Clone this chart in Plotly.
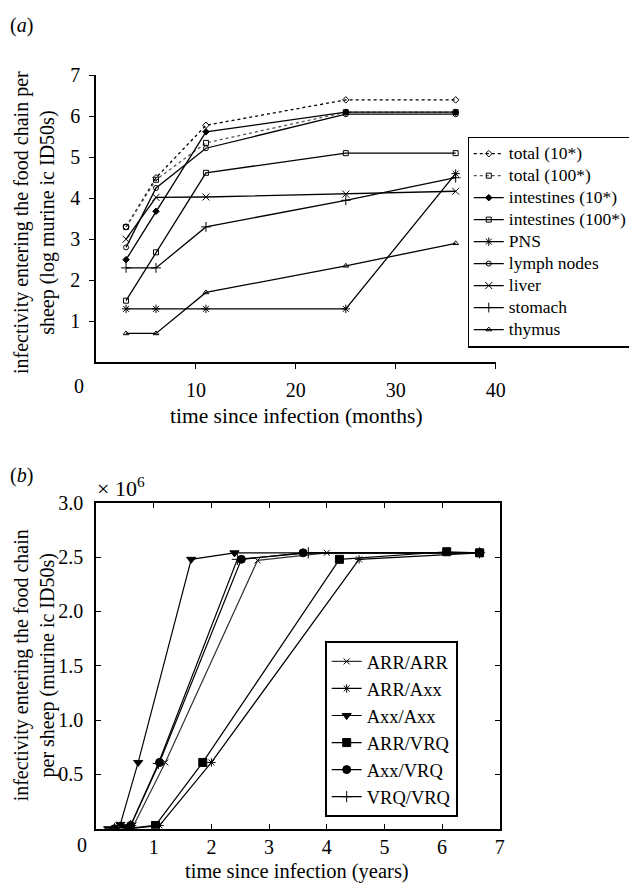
import plotly.graph_objects as go

# ---------------- Panel (a) data ----------------
months = [3, 6, 11, 25, 36]
total_10 = [3.3, 4.5, 5.78, 6.4, 6.4]
total_100 = [3.3, 4.45, 5.35, 6.1, 6.1]
intest_10 = [2.5, 3.68, 5.62, 6.1, 6.1]
intest_100 = [1.5, 2.68, 4.62, 5.1, 5.1]
pns = [1.3, 1.3, 1.3, 1.3, 4.6]
lymph = [2.8, 4.25, 5.22, 6.05, 6.05]
liver = [3.0, 4.02, 4.03, 4.1, 4.17]
stomach = [2.3, 2.3, 3.3, 3.95, 4.5]
thymus = [0.7, 0.7, 1.7, 2.35, 2.9]
a_xticks = [10, 20, 30, 40]
a_yticks = [1, 2, 3, 4, 5, 6, 7]

# ---------------- Panel (b) data (values in units of 10^6) ----------------
arr_arr_x = [0.5, 0.65, 1.2, 2.8, 4.0, 6.65]
arr_arr_y = [0.0, 0.03, 0.61, 2.47, 2.54, 2.54]
arr_axx_x = [0.6, 1.1, 2.0, 4.56, 6.65]
arr_axx_y = [0.0, 0.03, 0.61, 2.48, 2.54]
axx_axx_x = [0.21, 0.42, 0.73, 1.65, 2.4, 6.65]
axx_axx_y = [0.0, 0.04, 0.61, 2.48, 2.54, 2.54]
arr_vrq_x = [0.52, 1.03, 1.85, 4.22, 6.08, 6.65]
arr_vrq_y = [0.0, 0.03, 0.61, 2.48, 2.55, 2.54]
axx_vrq_x = [0.32, 0.6, 1.1, 2.52, 3.59, 6.65]
axx_vrq_y = [0.0, 0.03, 0.61, 2.48, 2.54, 2.54]
vrq_vrq_x = [0.32, 0.6, 1.08, 2.45, 3.68, 6.65]
vrq_vrq_y = [0.0, 0.03, 0.6, 2.48, 2.54, 2.54]
b_xticks = [1, 2, 3, 4, 5, 6, 7]
b_yticks = [0.5, 1.0, 1.5, 2.0, 2.5, 3.0]

FONT = "'Liberation Serif', 'Times New Roman', Times, serif"

# The page body has an 8px margin: figure is sized to fit the window exactly.
W, H, OFF = 629, 877, 8
def fx(px):
    return (px - OFF) / W
def fy(py):
    return 1 - (py - OFF) / H

fig = go.Figure()

def add_a(name, y, symbol, dash="solid", color="black", size=5):
    fig.add_trace(go.Scatter(
        x=months, y=y, mode="lines+markers",
        name="<span style='font-size:17.5px'>%s</span>" % name,
        line=dict(color=color, width=1.3, dash=dash),
        marker=dict(symbol=symbol, size=size, color="black",
                    line=dict(color="black", width=1)),
        xaxis="x", yaxis="y", legend="legend"))

add_a("total (10*)", total_10, "diamond-open", dash="dot")
add_a("total (100*)", total_100, "square-open", dash="dot", color="#555555")
add_a("intestines (10*)", intest_10, "diamond")
add_a("intestines (100*)", intest_100, "square-open")
add_a("PNS", pns, "asterisk-open", size=7)
add_a("lymph nodes", lymph, "circle-open")
add_a("liver", liver, "x-thin-open", size=7)
add_a("stomach", stomach, "cross-thin-open", size=7)
add_a("thymus", thymus, "triangle-up-open")

def add_b(name, x, y, symbol, size, color="black"):
    fig.add_trace(go.Scatter(
        x=x, y=y, name=name, mode="lines+markers",
        line=dict(color=color, width=1.2),
        marker=dict(symbol=symbol, size=size, color="black",
                    line=dict(color="black", width=1)),
        xaxis="x2", yaxis="y2", legend="legend2"))

add_b("ARR/ARR", arr_arr_x, arr_arr_y, "x-thin-open", 6, color="#333333")
add_b("ARR/Axx", arr_axx_x, arr_axx_y, "asterisk-open", 7)
add_b("Axx/Axx", axx_axx_x, axx_axx_y, "triangle-down", 8)
add_b("ARR/VRQ", arr_vrq_x, arr_vrq_y, "square", 8)
add_b("Axx/VRQ", axx_vrq_x, axx_vrq_y, "circle", 8)
add_b("VRQ/VRQ", vrq_vrq_x, vrq_vrq_y, "cross-thin-open", 8)

axis_common = dict(showgrid=False, zeroline=False, showline=True,
                   linecolor="black", linewidth=1.5, tickcolor="black",
                   tickwidth=1.2, ticklen=5,
                   tickfont=dict(family=FONT, size=20, color="black"))

fig.update_layout(
    width=W, height=H,
    margin=dict(l=0, r=0, t=0, b=0),
    paper_bgcolor="white", plot_bgcolor="white",
    font=dict(family=FONT, color="black"),
    xaxis=dict(domain=[fx(97.5), fx(503.5)], range=[0, 40], anchor="y",
               tickmode="array", tickvals=a_xticks,
               ticks="outside", ticklabelstandoff=4, **axis_common),
    yaxis=dict(domain=[fy(355.5), fy(65)], range=[0, 7], anchor="x",
               tickmode="array", tickvals=a_yticks, ticks="outside",
               ticklabelstandoff=5, **axis_common),
    xaxis2=dict(domain=[fx(97.5), fx(507.7)], range=[0, 7], anchor="y2",
                tickmode="array", tickvals=b_xticks,
                ticks="inside", mirror="ticks", ticklabelstandoff=0, **axis_common),
    yaxis2=dict(domain=[fy(828), fy(498)], range=[0, 3], anchor="x2",
                tickmode="array", tickvals=b_yticks,
                ticktext=["%.1f" % v for v in b_yticks],
                ticks="inside", mirror="ticks", ticklabelstandoff=7, **axis_common),
    legend=dict(x=fx(475), y=fy(127), xanchor="left", yanchor="top",
                bordercolor="black", borderwidth=1.2, bgcolor="white",
                font=dict(family=FONT, size=14.6, color="black"),
                itemwidth=30, tracegroupgap=0),
    legend2=dict(x=fx(330), y=fy(638), xanchor="left", yanchor="top",
                 bordercolor="black", borderwidth=1.8, bgcolor="white",
                 font=dict(family=FONT, size=18.5, color="black"),
                 itemwidth=30, tracegroupgap=0),
    showlegend=True,
)

ann = []
def txt(t, px, py, anchor="center", angle=0, size=20):
    ann.append(dict(text=t, x=fx(px), y=fy(py), xref="paper", yref="paper",
                    xanchor=anchor, yanchor="middle", textangle=angle,
                    showarrow=False, font=dict(family=FONT, size=size, color="black")))

txt("(<i>a</i>)", 8, 15, anchor="left")
txt("(<i>b</i>)", 8, 470, anchor="left")
txt("0", 80, 380)
txt("0", 83, 844)
txt("× 10<sup>6</sup>", 96, 482, anchor="left", size=22)
txt("time since infection (months)", 301, 410, size=21.5)
txt("time since infection (years)", 302, 871, size=20.5)
txt("infectivity entering the food chain per<br>sheep (log murine ic ID50s)", 35, 214, angle=-90, size=20)
txt("infectivity entering the food chain<br>per sheep (murine ic ID50s)", 35, 663, angle=-90, size=20)
fig.update_layout(annotations=ann)

fig.write_html("out.html")
